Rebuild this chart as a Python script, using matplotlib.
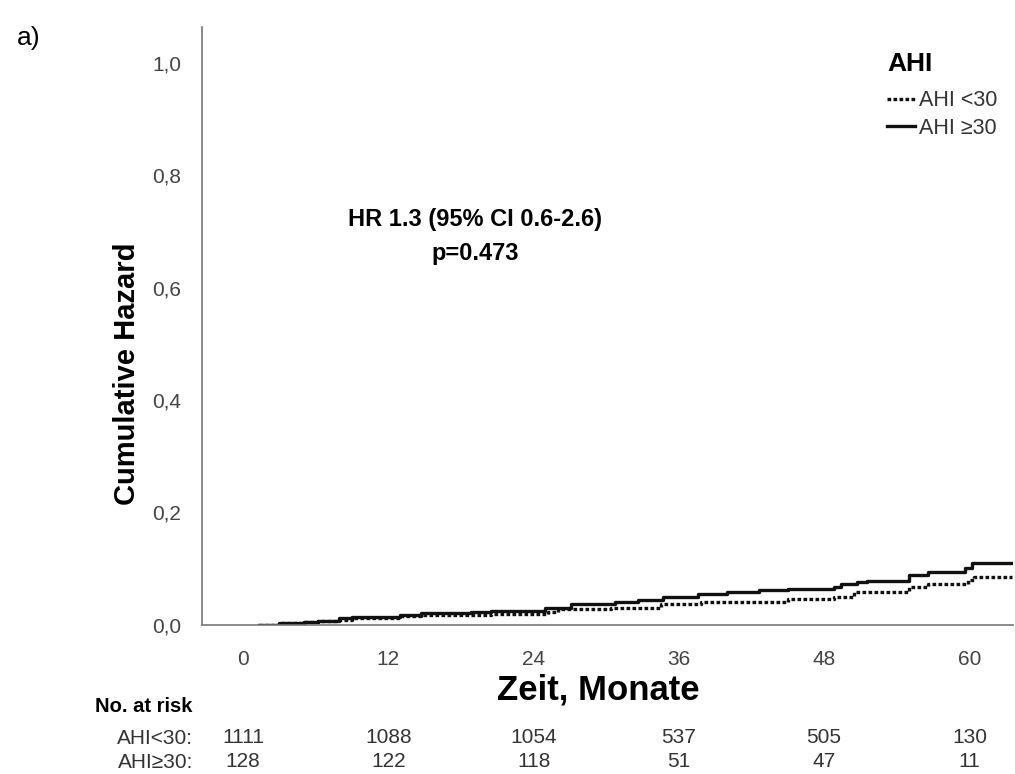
import matplotlib
matplotlib.use("Agg")
import matplotlib.pyplot as plt
from matplotlib.lines import Line2D

# Kumulatives Risiko (Monate / Hazard)
t_lo = [1.3, 3, 5, 6.2, 7.9, 9, 13, 14.7, 20.5, 25.2, 26, 30.4, 34.5, 37.8,
        45, 48.8, 50.5, 55, 56.6, 59.9, 60.4, 63.5]
h_lo = [0.0, 0.002, 0.004, 0.006, 0.009, 0.011, 0.015, 0.018, 0.019, 0.023,
        0.027, 0.030, 0.036, 0.041, 0.046, 0.049, 0.058, 0.067, 0.072, 0.080,
        0.085, 0.085]

t_hi = [1.3, 3, 5, 6.2, 7.9, 9, 13, 14.7, 18.8, 20.5, 24.9, 27.1, 30.7, 32.6,
        34.7, 37.6, 40, 42.6, 45, 48.8, 49.4, 50.7, 51.5, 55, 56.6, 59.6, 60.2,
        63.5]
h_hi = [0.0, 0.002, 0.004, 0.007, 0.011, 0.013, 0.018, 0.021, 0.022, 0.025,
        0.030, 0.036, 0.040, 0.043, 0.049, 0.055, 0.058, 0.061, 0.063, 0.067,
        0.072, 0.076, 0.078, 0.089, 0.094, 0.100, 0.110, 0.110]

x_ticks = [0, 12, 24, 36, 48, 60]
y_ticks = [0.0, 0.2, 0.4, 0.6, 0.8, 1.0]
risk_lo = [1111, 1088, 1054, 537, 505, 130]
risk_hi = [128, 122, 118, 51, 47, 11]

plt.rcParams['font.family'] = ['Liberation Sans', 'DejaVu Sans']

fig = plt.figure(figsize=(10.15, 7.74), dpi=100)
ax = fig.add_axes([0.199, 0.193, 0.799, 0.772])

dots = (0, (1.1, 0.7))
ax.step(t_lo, h_lo, where='post', color='#111111', lw=2.4, linestyle=dots)
ax.step(t_hi, h_hi, where='post', color='#111111', lw=2.4)

ax.set_xlim(-3.4, 63.6)
ax.set_ylim(0, 1.064)
ax.set_xticks(x_ticks)
ax.set_yticks(y_ticks)
ax.set_yticklabels([f'{v:.1f}'.replace('.', ',') for v in y_ticks])
ax.tick_params(length=0, labelsize=15, labelcolor='#444444')
ax.tick_params(axis='x', pad=18)
ax.tick_params(axis='y', pad=15)
for s in ['top', 'right']:
    ax.spines[s].set_visible(False)
for s in ['left', 'bottom']:
    ax.spines[s].set_color('#777777')
    ax.spines[s].set_linewidth(1.2)

ax.set_ylabel('Cumulative Hazard', fontsize=21, fontweight='bold')
ax.yaxis.set_label_coords((141 - 202) / 811, (625 - 374) / 597)
ax.set_xlabel('Zeit, Monate', fontsize=25, fontweight='bold', va='center')
ax.xaxis.set_label_coords((598 - 202) / 811, (625 - 690) / 597)

ax.text((475 - 202) / 811, (625 - 237) / 597, 'HR 1.3 (95% CI 0.6-2.6)\np=0.473',
        transform=ax.transAxes, ha='center', va='center', fontsize=17,
        fontweight='bold', linespacing=1.6)

# Legende: Titel separat, Einträge darunter
ax.text((887 - 202) / 811, (625 - 65) / 597, 'AHI', transform=ax.transAxes,
        ha='left', va='center', fontsize=19, fontweight='bold')
handles = [Line2D([], [], color='#111111', lw=2.4, linestyle=dots),
           Line2D([], [], color='#111111', lw=2.4)]
ax.legend(handles, ['AHI <30', 'AHI \u226530'], loc='upper left',
          bbox_to_anchor=((887 - 202) / 811, (625 - 91) / 597), frameon=False,
          fontsize=15.5, handlelength=1.3, handletextpad=0.2, labelspacing=0.3,
          borderpad=0, borderaxespad=0, labelcolor='#333333')

fig.text(0.017, 1 - 38 / 774, 'a)', fontsize=19, va='center')

xt = ax.get_xaxis_transform()
fig.text(0.19, 1 - 707 / 774, 'No. at risk', ha='right', va='center',
         fontsize=14.5, fontweight='bold')
fig.text(0.19, 1 - 738 / 774, 'AHI<30:', ha='right', va='center', fontsize=15,
         color='#333333')
fig.text(0.19, 1 - 762 / 774, 'AHI\u226530:', ha='right', va='center', fontsize=15,
         color='#333333')
for x, a, b in zip(x_ticks, risk_lo, risk_hi):
    ax.text(x, (625 - 738) / 597, str(a), transform=xt, ha='center', va='center',
            fontsize=15, color='#333333', clip_on=False)
    ax.text(x, (625 - 762) / 597, str(b), transform=xt, ha='center', va='center',
            fontsize=15, color='#333333', clip_on=False)

fig.savefig('out.png', dpi=100)
